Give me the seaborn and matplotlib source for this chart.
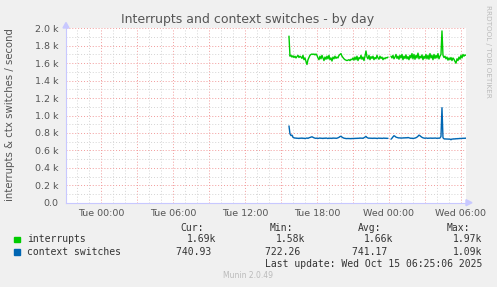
import numpy as np
import pandas as pd
import matplotlib
matplotlib.use("Agg")
import matplotlib.pyplot as plt
import matplotlib.dates as mdates
from matplotlib.ticker import MultipleLocator, FuncFormatter
from matplotlib.patches import Rectangle, Polygon
import seaborn as sns

# ---------------- data ----------------
start_time = "2025-10-14 15:40"
view_start = "2025-10-13 21:05:06"
view_end = "2025-10-15 06:25:06"
nan = float("nan")

interrupts = [
    1910, 1680, 1690, 1670, 1685, 1665, 1680, 1660, 1675, 1690, 1665, 1680,
    1670, 1655, 1690, 1640, 1660, 1620, 1585, 1640, 1665, 1690, 1700, 1705,
    1700, 1705, 1695, 1705, 1690, 1660, 1640, 1680, 1650, 1690, 1660, 1630,
    1670, 1645, 1680, 1650, 1690, 1640, 1660, 1625, 1670, 1650, 1680, 1655,
    1670, 1660, 1690, 1700, 1710, 1680, 1665, 1650, 1640, 1635, 1630, 1635,
    1640, 1630, 1645, 1640, 1660, 1635, 1670, 1640, 1680, 1630, 1665, 1650,
    1690, 1645, 1670, 1630, 1680, 1740, 1670, 1650, 1690, 1640, 1675, 1655,
    1680, 1640, 1665, 1650, 1690, 1660, 1645, 1680, 1655, 1670, 1640, 1660,
    1650, 1665, 1660, 1670, nan, nan, 1680, 1660, 1690, 1650, 1670, 1700,
    1655, 1680, 1645, 1690, 1660, 1700, 1640, 1680, 1655, 1695, 1650, 1675,
    1640, 1690, 1660, 1710, 1650, 1700, 1645, 1690, 1660, 1715, 1650, 1680,
    1660, 1695, 1640, 1680, 1655, 1700, 1650, 1690, 1645, 1710, 1660, 1690,
    1640, 1700, 1655, 1690, 1660, 1710, 1650, 1680, 1700, 1970, 1690, 1665,
    1680, 1650, 1670, 1635, 1660, 1640, 1665, 1630, 1660, 1645, 1620, 1600,
    1650, 1630, 1670, 1645, 1690, 1660, 1700, 1680, 1695, 1690,
]
context_switches = [
    880, 790, 770, 775, 750, 745, 740, 742, 738, 740, 736, 741,
    738, 742, 737, 740, 735, 739, 742, 738, 744, 748, 752, 756,
    750, 744, 740, 738, 741, 737, 739, 742, 738, 740, 736, 741,
    738, 742, 739, 736, 741, 738, 740, 737, 742, 739, 741, 738,
    740, 744, 750, 758, 762, 752, 745, 740, 738, 736, 735, 737,
    735, 736, 734, 737, 735, 738, 736, 739, 737, 740, 738, 742,
    739, 741, 738, 745, 752, 760, 748, 742, 739, 741, 738, 740,
    737, 741, 738, 740, 736, 739, 741, 738, 740, 737, 739, 741,
    738, 740, 737, 739, nan, nan, 728, 740, 755, 768, 762, 752,
    748, 745, 742, 744, 740, 743, 741, 745, 742, 746, 743, 748,
    744, 741, 738, 740, 736, 739, 741, 745, 752, 762, 775, 768,
    758, 750, 744, 741, 739, 742, 740, 738, 741, 739, 742, 738,
    741, 739, 742, 740, 738, 741, 739, 742, 760, 1090, 745, 733,
    730, 732, 729, 731, 728, 730, 722, 731, 729, 733, 730, 735,
    732, 736, 734, 738, 735, 739, 737, 740, 738, 741,
]
series_names = ["interrupts", "context switches"]
series_colors = ["#00CC00", "#0066B3"]
stat_headers = ["Cur:", "Min:", "Avg:", "Max:"]
stats_interrupts = ["1.69k", "1.58k", "1.66k", "1.97k"]
stats_context = ["740.93", "722.26", "741.17", "1.09k"]
title = "Interrupts and context switches - by day"
ylabel = "interrupts & ctx switches / second"
last_update = "Last update: Wed Oct 15 06:25:06 2025"
footer = "Munin 2.0.49"
watermark = "RRDTOOL / TOBI OETIKER"

# ---------------- build table ----------------
times = pd.date_range(start_time, periods=len(interrupts), freq="5min")
rows = []
for name, vals in zip(series_names, [interrupts, context_switches]):
    seg = 0
    for t, v in zip(times, vals):
        if np.isnan(v):
            seg += 1
            continue
        rows.append({"time": t, "value": v, "series": name, "seg": seg})
df = pd.DataFrame(rows)

# ---------------- figure ----------------
sns.set_style("white")
plt.rcParams["font.family"] = ["DejaVu Sans"]
W, H = 497, 287
fig = plt.figure(figsize=(W / 100, H / 100), dpi=100, facecolor="#F0F0F0")

x0, x1, ytop, ybot = 66, 466, 28.3, 202.7
ax = fig.add_axes([x0 / W, (H - ybot) / H, (x1 - x0) / W, (ybot - ytop) / H])
ax.set_facecolor("white")

sns.lineplot(data=df, x="time", y="value", hue="series", units="seg",
             estimator=None, palette=dict(zip(series_names, series_colors)),
             linewidth=1.0, ax=ax, legend=False, zorder=5)

ax.set_xlim(pd.Timestamp(view_start), pd.Timestamp(view_end))
ax.set_ylim(0, 2000)
ax.set_xlabel("")
ax.set_ylabel("")

ax.xaxis.set_major_locator(mdates.HourLocator(byhour=range(0, 24, 3)))
ax.xaxis.set_minor_locator(mdates.HourLocator())

def xfmt(v, pos):
    d = mdates.num2date(v)
    return d.strftime("%a %H:%M") if d.hour % 6 == 0 else ""

ax.xaxis.set_major_formatter(FuncFormatter(xfmt))
ax.yaxis.set_major_locator(MultipleLocator(200))
ax.yaxis.set_minor_locator(MultipleLocator(100))
ax.yaxis.set_major_formatter(FuncFormatter(lambda v, p: "0.0" if v == 0 else f"{v/1000:.1f} k"))

dot = (0, (1, 2))
ax.grid(which="minor", color="#D4D4D4", linestyle=dot, linewidth=0.7, zorder=0)
ax.grid(which="major", color="#F29A9A", linestyle=dot, linewidth=0.7, zorder=1)
ax.set_axisbelow(True)

ax.tick_params(which="major", length=2, width=0.7, color="#F29A9A",
               labelsize=6.8, labelcolor="#555555", pad=2.5)
ax.tick_params(which="minor", length=1.5, width=0.6, color="#C8C8C8")
ax.tick_params(axis="y", pad=3.5)

for s in ["top", "right"]:
    ax.spines[s].set_visible(False)
for s in ["left", "bottom"]:
    ax.spines[s].set_color("#C8C8FF")
    ax.spines[s].set_linewidth(0.8)

# axis arrows
def fx(px):
    return px / W
def fy(py):
    return 1 - py / H
fig.patches.append(Polygon([[fx(466), fy(199.7)], [fx(472), fy(202.7)], [fx(466), fy(205.7)]],
                           closed=True, transform=fig.transFigure, color="#C8C8FF", figure=fig))
fig.patches.append(Polygon([[fx(63), fy(28)], [fx(66), fy(22.5)], [fx(69), fy(28)]],
                           closed=True, transform=fig.transFigure, color="#C8C8FF", figure=fig))

# texts
fig.text(fx(247.5), fy(19.3), title, ha="center", va="center", fontsize=9, color="#555555")
fig.text(fx(10), fy(114.5), ylabel, ha="center", va="center", rotation=90,
         fontsize=7.3, color="#555555")
fig.text(fx(488), fy(5), watermark, ha="center", va="top", rotation=270,
         fontsize=5.2, color="#BBBBBB")

mono = "DejaVu Sans Mono"
lc = "#333333"
header_right = [204, 293, 381, 470]
for h, xr in zip(stat_headers, header_right):
    fig.text(fx(xr), fy(228.3), h, ha="right", va="center", family=mono, fontsize=7, color=lc)

value_right = [216.7, 305.7, 393.0, 482.3]
for row_y, name, col, stats in [(239.3, series_names[0], series_colors[0], stats_interrupts),
                                (251.7, series_names[1], series_colors[1], stats_context)]:
    fig.patches.append(Rectangle((fx(14), fy(row_y + 2.8)), 5.5 / W, 5.5 / H,
                                 transform=fig.transFigure, color=col, figure=fig))
    fig.text(fx(26.7), fy(row_y), name, ha="left", va="center", family=mono, fontsize=7, color=lc)
    for s, xr in zip(stats, value_right):
        txt = s if s.endswith("k") else s + " "
        fig.text(fx(xr), fy(row_y), txt, ha="right", va="center", family=mono, fontsize=7, color=lc)

fig.text(fx(482.3), fy(264), last_update, ha="right", va="center", family=mono, fontsize=7, color=lc)
fig.text(fx(248), fy(275.7), footer, ha="center", va="center", fontsize=5.5, color="#BBBBBB")

fig.savefig("out.png", dpi=100, facecolor=fig.get_facecolor())
